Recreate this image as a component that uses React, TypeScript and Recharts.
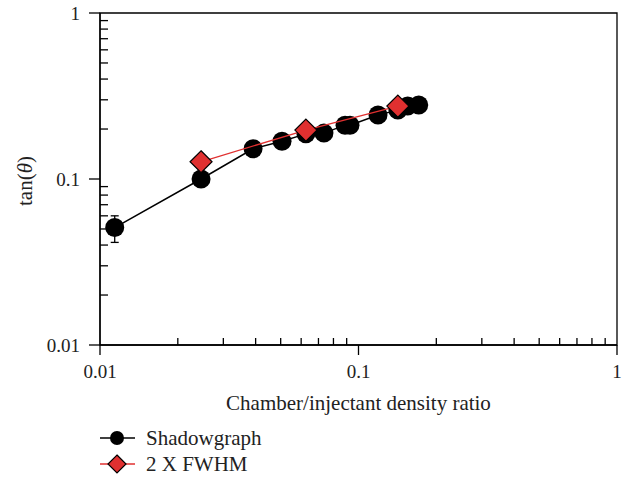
import React from 'react';
import {
  ComposedChart,
  Scatter,
  XAxis,
  YAxis,
  ErrorBar,
  Legend,
  ReferenceArea,
  Label,
} from 'recharts';

// density ratio vs spreading angle, log-log
const shadowX = [0.0114, 0.0246, 0.0391, 0.0506, 0.0626, 0.0735, 0.0887, 0.0927, 0.119, 0.142, 0.155, 0.171];
const shadowY = [0.051, 0.1, 0.152, 0.169, 0.187, 0.189, 0.211, 0.211, 0.243, 0.26, 0.275, 0.279];
const shadowErr: ([number, number] | null)[] = [[0.0095, 0.009], null, null, null, null, null, null, null, null, null, null, null];

const fwhmX = [0.0246, 0.0626, 0.142];
const fwhmY = [0.127, 0.197, 0.275];

const decades = [0.01, 0.1, 1];
const minorTicks = [0.02, 0.03, 0.04, 0.05, 0.06, 0.07, 0.08, 0.09, 0.2, 0.3, 0.4, 0.5, 0.6, 0.7, 0.8, 0.9];
const allTicks = [...decades, ...minorTicks].sort((a, b) => a - b);

const shadowData = shadowX.map((x, i) => ({ x, y: shadowY[i], err: shadowErr[i] }));
const fwhmData = fwhmX.map((x, i) => ({ x, y: fwhmY[i] }));

const FONT = '"Liberation Serif", "Times New Roman", serif';
const TICK_SIZE = 19;
const TEXT_SIZE = 21;
const RED = '#e03030';

const isMajor = (v: number) => decades.some((d) => Math.abs(d - v) < 1e-9);

const XTick = (props: any) => {
  const { x, y, payload } = props;
  const major = isMajor(payload.value);
  return (
    <g>
      {major ? (
        <line x1={x} y1={y} x2={x} y2={y + 10} stroke="#000" strokeWidth={1.3} />
      ) : (
        <line x1={x} y1={y} x2={x} y2={y - 7} stroke="#000" strokeWidth={1.3} />
      )}
      {major && (
        <text x={x} y={y + 33} textAnchor="middle" fontFamily={FONT} fontSize={TICK_SIZE} fill="#222">
          {payload.value}
        </text>
      )}
    </g>
  );
};

const YTick = (props: any) => {
  const { x, y, payload } = props;
  const major = isMajor(payload.value);
  return (
    <g>
      {major ? (
        <line x1={x} y1={y} x2={x - 11} y2={y} stroke="#000" strokeWidth={1.3} />
      ) : (
        <line x1={x} y1={y} x2={x + 8} y2={y} stroke="#000" strokeWidth={1.3} />
      )}
      {major && (
        <text x={x - 20} y={y + 6.5} textAnchor="end" fontFamily={FONT} fontSize={TICK_SIZE} fill="#222">
          {payload.value}
        </text>
      )}
    </g>
  );
};

const Circle = (props: any) => {
  const { cx, cy } = props;
  return <circle cx={cx} cy={cy} r={9.5} fill="#000" />;
};

const Diamond = (props: any) => {
  const { cx, cy } = props;
  const s = 11;
  return (
    <path
      d={`M${cx},${cy - s}L${cx + s},${cy}L${cx},${cy + s}L${cx - s},${cy}Z`}
      fill={RED}
      stroke="#000"
      strokeWidth={1.2}
    />
  );
};

const LegendContent = () => (
  <svg width={625} height={72} style={{ overflow: 'visible', display: 'block' }}>
    <g>
      <line x1={100} y1={35} x2={135} y2={35} stroke="#000" strokeWidth={1.5} />
      <circle cx={117} cy={35} r={7} fill="#000" />
      <text x={146} y={42} fontFamily={FONT} fontSize={TEXT_SIZE} fill="#222">
        Shadowgraph
      </text>
    </g>
    <g>
      <line x1={100} y1={61} x2={135} y2={61} stroke={RED} strokeWidth={1.3} />
      <path d="M117,52L126,61L117,70L108,61Z" fill={RED} stroke="#000" strokeWidth={1.2} />
      <text x={146} y={68} fontFamily={FONT} fontSize={TEXT_SIZE} fill="#222">
        2 X FWHM
      </text>
    </g>
  </svg>
);

export default function App() {
  return (
    <div style={{ position: 'absolute', left: 0, top: 0, background: '#fff' }}>
      <ComposedChart width={625} height={477} margin={{ top: 13, right: 8, left: 0, bottom: 0 }}>
        <ReferenceArea x1={0.01} x2={1} y1={0.01} y2={1} fill="none" stroke="#000" strokeWidth={1.3} ifOverflow="visible" />
        <XAxis
          dataKey="x"
          type="number"
          scale="log"
          domain={[0.01, 1]}
          ticks={allTicks}
          interval={0}
          allowDataOverflow
          height={62}
          tickLine={false}
          tickSize={0}
          tickMargin={0}
          tick={<XTick />}
          axisLine={{ stroke: '#000', strokeWidth: 1.3 }}
        >
          <Label
            content={(p: any) => {
              const vb = p.viewBox || {};
              const cx = (vb.x || 0) + (vb.width || 0) / 2;
              const cy = (vb.y || 0) + 65;
              return (
                <text x={cx} y={cy} textAnchor="middle" fontFamily={FONT} fontSize={TEXT_SIZE} fill="#222">
                  Chamber/injectant density ratio
                </text>
              );
            }}
          />
        </XAxis>
        <YAxis
          dataKey="y"
          type="number"
          scale="log"
          domain={[0.01, 1]}
          ticks={allTicks}
          interval={0}
          allowDataOverflow
          width={100}
          tickLine={false}
          tickSize={0}
          tickMargin={0}
          tick={<YTick />}
          axisLine={{ stroke: '#000', strokeWidth: 1.3 }}
        >
          <Label
            content={(p: any) => {
              const vb = p.viewBox || {};
              const cx = (vb.x || 0) + 25;
              const cy = (vb.y || 0) + (vb.height || 0) / 2 + 2;
              return (
                <text
                  x={cx}
                  y={cy}
                  transform={`rotate(-90 ${cx} ${cy})`}
                  textAnchor="middle"
                  dominantBaseline="central"
                  fontFamily={FONT}
                  fontSize={TEXT_SIZE}
                  fill="#222"
                >
                  tan(<tspan fontStyle="italic">θ</tspan>)
                </text>
              );
            }}
          />
        </YAxis>
        <Legend
          verticalAlign="bottom"
          content={<LegendContent />}
          wrapperStyle={{ left: 0, top: 403, width: 625, height: 70 }}
        />
        <Scatter
          name="Shadowgraph"
          data={shadowData}
          line={{ stroke: '#000', strokeWidth: 1.5 }}
          shape={<Circle />}
          isAnimationActive={false}
        >
          <ErrorBar dataKey="err" direction="y" width={4} stroke="#000" strokeWidth={1.3} />
        </Scatter>
        <Scatter
          name="2 X FWHM"
          data={fwhmData}
          line={{ stroke: RED, strokeWidth: 1.3 }}
          shape={<Diamond />}
          isAnimationActive={false}
        />
      </ComposedChart>
    </div>
  );
}
